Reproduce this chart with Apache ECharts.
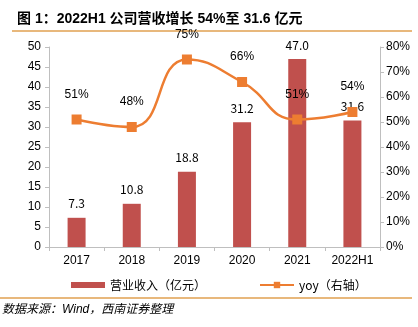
<!DOCTYPE html>
<html><head><meta charset="utf-8">
<script src="https://cdn.jsdelivr.net/npm/echarts@6/dist/echarts.min.js"></script>
<style>html,body{margin:0;padding:0;background:#fff}#c{width:418px;height:327px}</style>
</head><body><div id="c"></div>
<script>
const categories = ['2017','2018','2019','2020','2021','2022H1'];
const revenue = [7.3, 10.8, 18.8, 31.2, 47.0, 31.6];
const yoy = [51, 48, 75, 66, 51, 54];
const leftTicks = [0, 50, 5];
const rightTicks = [0, 80, 10];

const chart = echarts.init(document.getElementById('c'), null, {renderer:'canvas'});
const axisGrey = '#BFBFBF';
const numFont = 'Liberation Sans, Arial, sans-serif';
const legendText = {fontSize:12, color:'#000', fontFamily:'Noto Sans CJK SC, sans-serif'};
chart.setOption({
  animation:false,
  title:{text:'图 1：2022H1 公司营收增长 54%至 31.6 亿元', left:12, top:7,
    textStyle:{fontSize:14, fontWeight:'bold', color:'#000', fontFamily:'Liberation Sans, Noto Sans CJK SC, sans-serif'}},
  graphic:[
    {type:'line', shape:{x1:12,y1:31,x2:412,y2:31}, style:{stroke:'#E0A050', lineWidth:1.5}},
    {type:'line', shape:{x1:0,y1:298,x2:412,y2:298}, style:{stroke:'#E0A050', lineWidth:1.5}},
    {type:'text', left:2, top:304, style:{text:'数据来源：Wind，西南证券整理', fontSize:12, fontStyle:'italic', fill:'#000', fontFamily:'Liberation Sans, Noto Sans CJK SC, sans-serif'}}
  ],
  grid:{left:49, right:38, top:47, bottom:80},
  legend:[
    {top:274, left:66, itemWidth:34, itemHeight:6, itemGap:4, textStyle:legendText,
     data:[{name:'营业收入（亿元）', icon:'rect'}]},
    {top:274, left:254, itemWidth:34, itemHeight:8, itemGap:4, textStyle:legendText,
     data:[{name:'yoy（右轴）'}]}
  ],
  xAxis:{type:'category', data:categories,
    axisLine:{lineStyle:{color:axisGrey}}, axisTick:{show:true, lineStyle:{color:axisGrey}, length:4},
    axisLabel:{color:'#000', fontSize:12, fontFamily:numFont, margin:8}},
  yAxis:[
    {type:'value', min:leftTicks[0], max:leftTicks[1], interval:leftTicks[2],
     axisLine:{show:true, lineStyle:{color:axisGrey}}, axisTick:{show:true, lineStyle:{color:axisGrey}, length:4},
     splitLine:{show:false}, axisLabel:{color:'#000', fontSize:12, fontFamily:numFont, margin:8}},
    {type:'value', min:rightTicks[0], max:rightTicks[1], interval:rightTicks[2],
     axisLine:{show:true, lineStyle:{color:axisGrey}}, axisTick:{show:true, lineStyle:{color:axisGrey}, length:4},
     splitLine:{show:false}, axisLabel:{color:'#000', fontSize:12, fontFamily:numFont, margin:6, formatter:'{value}%'}}
  ],
  series:[
    {name:'营业收入（亿元）', type:'bar', data:revenue, barWidth:18, yAxisIndex:0,
     itemStyle:{color:'#C0504D'},
     label:{show:true, position:'top', distance:8, color:'#000', fontSize:12, fontFamily:'Noto Sans CJK SC, sans-serif',
       formatter:p=>p.value.toFixed(1)}},
    {name:'yoy（右轴）', type:'line', data:yoy, yAxisIndex:1, smooth:0.5,
     symbol:'rect', symbolSize:10, lineStyle:{color:'#ED7D31', width:2.5}, itemStyle:{color:'#ED7D31'},
     label:{show:true, position:'top', distance:14, color:'#000', fontSize:12, fontFamily:numFont, formatter:'{c}%'}}
  ]
});
</script></body></html>
